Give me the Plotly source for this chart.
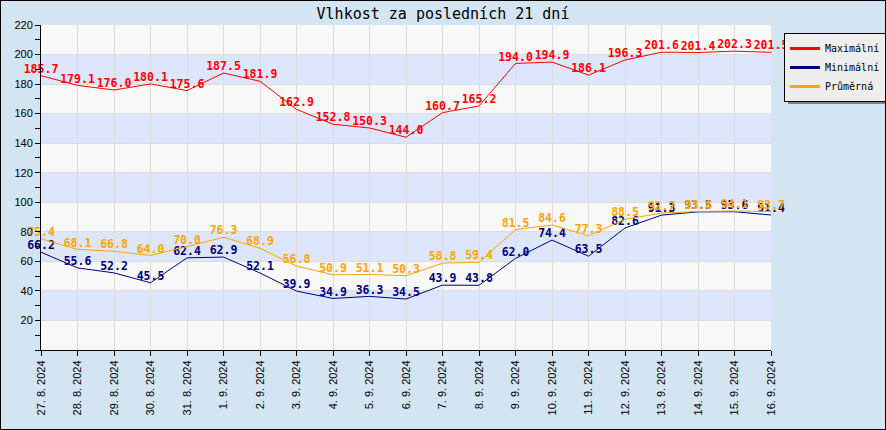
import plotly.graph_objects as go

dates = ["27. 8. 2024", "28. 8. 2024", "29. 8. 2024", "30. 8. 2024", "31. 8. 2024",
         "1. 9. 2024", "2. 9. 2024", "3. 9. 2024", "4. 9. 2024", "5. 9. 2024",
         "6. 9. 2024", "7. 9. 2024", "8. 9. 2024", "9. 9. 2024", "10. 9. 2024",
         "11. 9. 2024", "12. 9. 2024", "13. 9. 2024", "14. 9. 2024", "15. 9. 2024",
         "16. 9. 2024"]
max_vals = [185.7, 179.1, 176.0, 180.1, 175.6, 187.5, 181.9, 162.9, 152.8, 150.3,
            144.0, 160.7, 165.2, 194.0, 194.9, 186.1, 196.3, 201.6, 201.4, 202.3, 201.5]
min_vals = [66.2, 55.6, 52.2, 45.5, 62.4, 62.9, 52.1, 39.9, 34.9, 36.3,
            34.5, 43.9, 43.8, 62.0, 74.4, 63.5, 82.6, 91.3, 93.5, 93.6, 91.4]
avg_vals = [75.4, 68.1, 66.8, 64.0, 70.0, 76.3, 68.9, 56.8, 50.9, 51.1,
            50.3, 58.8, 59.4, 81.5, 84.6, 77.3, 88.5, 92.7, 93.8, 94.1, 93.7]
y_ticks = [20, 40, 60, 80, 100, 120, 140, 160, 180, 200, 220]

W, H = 886, 430
ML, MR, MT, MB = 41, 115, 25, 80
PW, PH = W - ML - MR, H - MT - MB

xs = list(range(len(dates)))
label_font = dict(family="DejaVu Sans Mono", size=11.5, weight="bold")

fig = go.Figure()
series = [("Maximální", max_vals, "#ff0000"),
          ("Minimální", min_vals, "#000080"),
          ("Průměrná", avg_vals, "#ffa500")]
for name, vals, col in series:
    fig.add_trace(go.Scatter(
        x=xs, y=vals, name=name, mode="lines+text",
        line=dict(color=col, width=1),
        text=[f"{v:.1f}" for v in vals], textposition="top center",
        textfont=dict(color=col, **label_font),
        cliponaxis=False, hoverinfo="skip", showlegend=False))
# legend entries with thicker line symbols
for name, vals, col in series:
    fig.add_trace(go.Scatter(
        x=[None], y=[None], name=name, mode="lines",
        line=dict(color=col, width=3), hoverinfo="skip", showlegend=True))

shapes = []
# alternating background bands
for i in range(len(y_ticks) - 1):
    if i % 2 == 0:
        shapes.append(dict(type="rect", xref="paper", yref="y", x0=0, x1=1,
                           y0=y_ticks[i], y1=y_ticks[i + 1], fillcolor="#dde6fc",
                           line=dict(width=0), layer="below"))
# legend shadow
shapes.append(dict(type="rect", xref="paper", yref="paper",
                   x0=(788 - ML) / PW, x1=(886 - ML) / PW,
                   y0=(H - MB - 104) / PH, y1=(H - MB - 37) / PH,
                   fillcolor="#808080", line=dict(width=0), layer="above"))
# outer frame
shapes.append(dict(type="rect", xref="paper", yref="paper",
                   x0=-ML / PW, x1=(W - ML) / PW,
                   y0=-MB / PH, y1=(H - MB) / PH,
                   line=dict(color="black", width=2), fillcolor="rgba(0,0,0,0)",
                   layer="above"))

fig.update_layout(
    width=W, height=H,
    margin=dict(l=ML, r=MR, t=MT, b=MB, autoexpand=False),
    paper_bgcolor="#d3e4f2", plot_bgcolor="#f8f8f8",
    title=dict(text="Vlhkost za posledních 21 dní", x=0.5, xanchor="center",
               y=1 - 14 / H, yanchor="middle",
               font=dict(family="DejaVu Sans Mono", size=15, color="black")),
    shapes=shapes,
    showlegend=True,
    legend=dict(xref="container", yref="container",
                x=784 / W, y=1 - 33 / H, xanchor="left", yanchor="top",
                bgcolor="#eeeeee", bordercolor="black", borderwidth=1,
                font=dict(family="DejaVu Sans Mono", size=10, color="black"),
                itemwidth=30, tracegroupgap=0),
    xaxis=dict(range=[0, len(dates) - 1], tickvals=xs, ticktext=dates, tickangle=-90,
               showline=True, linecolor="black", linewidth=1,
               ticks="outside", ticklen=5, tickcolor="black",
               showgrid=True, gridcolor="#dcdcdc", gridwidth=1, zeroline=False,
               automargin=False,
               tickfont=dict(family="Liberation Sans", size=11, color="black")),
    yaxis=dict(range=[0, 220], tickvals=y_ticks,
               showline=True, linecolor="black", linewidth=1,
               ticks="outside", ticklen=5, tickcolor="black",
               minor=dict(ticks="outside", ticklen=5, dtick=10, tick0=0,
                          tickcolor="black", showgrid=False),
               showgrid=True, gridcolor="#dcdcdc", gridwidth=1, zeroline=False,
               automargin=False,
               tickfont=dict(family="Liberation Sans", size=11, color="black")),
)

fig.write_html("out.html")
